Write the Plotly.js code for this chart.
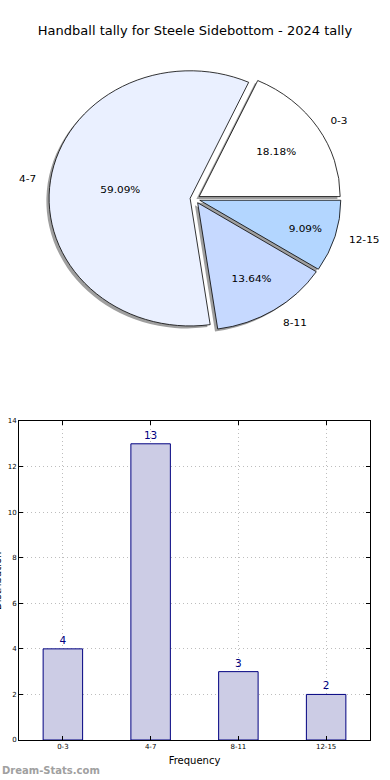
<!DOCTYPE html>
<html>
<head>
<meta charset="utf-8">
<script src="https://cdn.plot.ly/plotly-3.0.1.min.js"></script>
<style>
  html, body { margin: 0; padding: 0; background: #ffffff; }
  #chart { width: 390px; height: 780px; }
</style>
</head>
<body>
<div id="chart"></div>
<script>
// ---- data ----
const categories = ["0-3", "4-7", "8-11", "12-15"];
const counts = [4, 13, 3, 2];
const sliceColors = ["#ffffff", "#eaf0ff", "#c6d9ff", "#b3d6ff"];
const chartTitle = "Handball tally for Steele Sidebottom - 2024 tally";
const xAxisTitle = "Frequency";
const yAxisTitle = "Distribution";
const yTicks = [0, 2, 4, 6, 8, 10, 12, 14];
const watermark = "Dream-Stats.com";

// ---- layout helpers (pixels -> paper) ----
const W = 390, H = 780;
const px = v => v / W;
const py = v => 1 - v / H;

const total = counts.reduce((a, b) => a + b, 0);
// first slice starts at 3 o'clock, going counterclockwise
const pieRotation = 90 - 360 * counts[0] / total;

const pieCx = 195, pieCy = 199;
const mainHalf = 139;     // half size of main pie domain
const labelHalf = 150;    // half size of label pie domain
const pieStretchX = 1.05, pieStretchY = 0.95;  // the reference pie is slightly elliptical
const pullAmt = 0.035;
const pulls = categories.map(() => pullAmt);
const font = "DejaVu Sans, sans-serif";

function dom(cx, cy, half) {
  return { x: [px(cx - half), px(cx + half)], y: [py(cy + half), py(cy - half)] };
}

const commonPie = {
  type: "pie",
  labels: categories,
  values: counts,
  sort: false,
  direction: "counterclockwise",
  rotation: pieRotation,
  pull: pulls,
  hoverinfo: "skip",
  showlegend: false
};

const shadowTrace = Object.assign({}, commonPie, {
  domain: dom(pieCx - 2.6, pieCy + 2.6, mainHalf),
  marker: { colors: categories.map(() => "rgba(80,80,80,0.55)"), line: { width: 0 } },
  textinfo: "none"
});

const mainTrace = Object.assign({}, commonPie, {
  domain: dom(pieCx, pieCy, mainHalf),
  marker: { colors: sliceColors, line: { color: "#000000", width: 0.8 } },
  texttemplate: "%{percent:.2%}",
  textposition: "inside",
  insidetextorientation: "horizontal",
  insidetextfont: { family: font, size: 10, color: "#000000" }
});

const labelTrace = Object.assign({}, commonPie, {
  domain: dom(pieCx, pieCy, labelHalf),
  marker: { colors: categories.map(() => "rgba(0,0,0,0)"), line: { width: 0 } },
  texttemplate: "%{label}",
  textposition: "outside",
  outsidetextfont: { family: font, size: 10, color: "#000000" }
});

const barTrace = {
  type: "bar",
  x: categories,
  y: counts,
  xaxis: "x",
  yaxis: "y",
  width: 0.45,
  marker: { color: "#ccccE5", line: { color: "#000080", width: 1 } },
  text: counts.map(String),
  textposition: "outside",
  textfont: { family: font, size: 10.5, color: "#000080" },
  cliponaxis: false,
  hoverinfo: "skip",
  showlegend: false
};

const gridStyle = { showgrid: true, gridcolor: "#bdbdbd", griddash: "1px,3px", gridwidth: 1 };

const layout = {
  width: W,
  height: H,
  margin: { l: 0, r: 0, t: 0, b: 0 },
  paper_bgcolor: "#ffffff",
  plot_bgcolor: "#ffffff",
  font: { family: font, color: "#000000" },
  title: {
    text: chartTitle,
    font: { family: font, size: 13, color: "#000000" },
    x: 0.5, xanchor: "center",
    y: py(30), yanchor: "middle"
  },
  xaxis: Object.assign({
    domain: [px(19), px(370)],
    anchor: "y",
    type: "category",
    range: [-0.5, 3.5],
    showline: true, linecolor: "#000000", linewidth: 1, mirror: "allticks",
    ticks: "inside", ticklen: 4, tickcolor: "#000000",
    tickfont: { family: font, size: 7, color: "#000000" },
    zeroline: false,
    title: { text: xAxisTitle, font: { family: font, size: 10, color: "#000000" }, standoff: 6 },
    fixedrange: true
  }, gridStyle),
  yaxis: Object.assign({
    domain: [py(740), py(421)],
    anchor: "x",
    range: [0, 14],
    tickvals: yTicks,
    showline: true, linecolor: "#000000", linewidth: 1, mirror: "allticks",
    ticks: "inside", ticklen: 4, tickcolor: "#000000",
    tickfont: { family: font, size: 7, color: "#000000" },
    zeroline: false,
    fixedrange: true
  }, gridStyle),
  annotations: [
    {
      text: yAxisTitle, textangle: -90,
      xref: "paper", yref: "paper",
      x: px(-3), y: py(581), xanchor: "center", yanchor: "middle",
      showarrow: false,
      font: { family: font, size: 10, color: "#000000" }
    },
    {
      text: "<b>" + watermark + "</b>",
      xref: "paper", yref: "paper",
      x: 0, y: py(770), xanchor: "left", yanchor: "middle",
      showarrow: false,
      font: { family: font, size: 10, color: "#a0a0a0" }
    }
  ]
};

Plotly.newPlot("chart", [shadowTrace, mainTrace, labelTrace, barTrace], layout, { staticPlot: true, displayModeBar: false })
  .then(function () {
    const pl = document.querySelector("#chart .pielayer");
    if (pl) {
      pl.setAttribute("transform",
        "translate(" + pieCx + "," + pieCy + ") scale(" + pieStretchX + "," + pieStretchY + ") translate(" + (-pieCx) + "," + (-pieCy) + ")");
    }
  });
</script>
</body>
</html>
